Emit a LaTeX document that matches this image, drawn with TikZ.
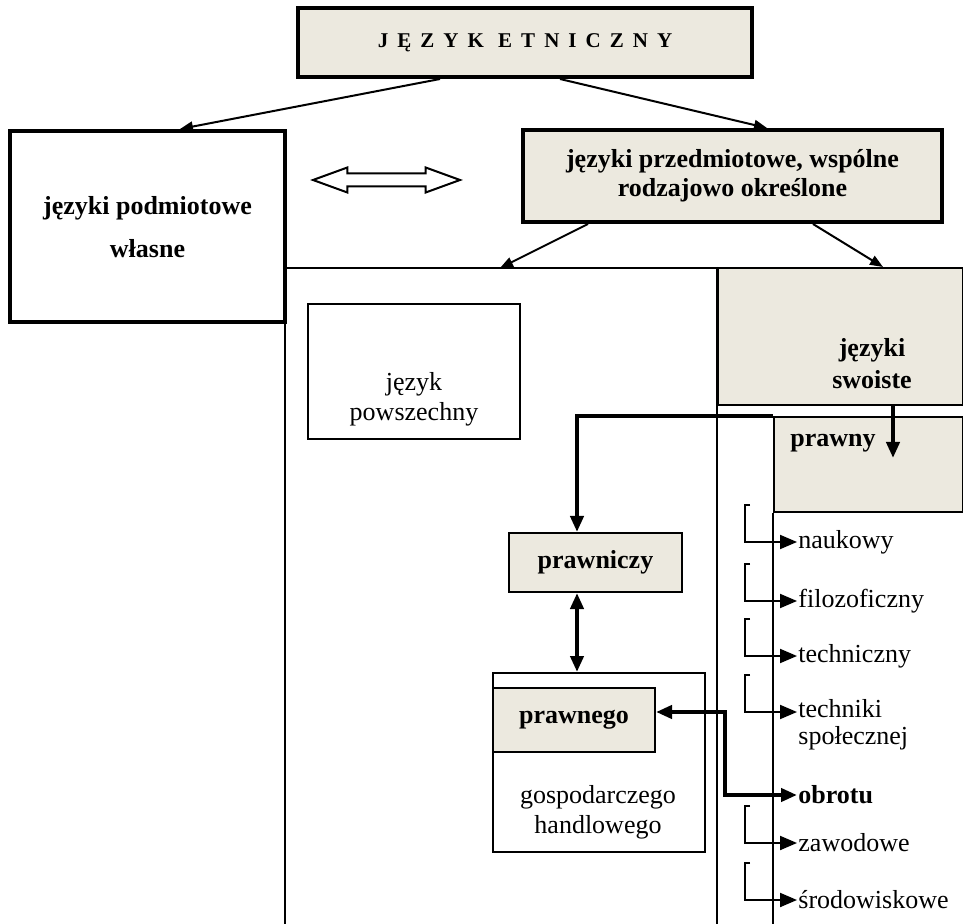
\documentclass[tikz,border=0pt]{standalone}
\usepackage{fontspec}
\setmainfont{Liberation Serif}
\usetikzlibrary{arrows.meta,shapes.arrows}
\definecolor{paper}{HTML}{ECE9DF}

\begin{document}
\begin{tikzpicture}[x=0.5pt,y=-0.5pt,
    every node/.style={font=\fontsize{13}{15}\selectfont},
    boldbox/.style={draw,line width=2pt,inner sep=0pt},
    thinbox/.style={draw,line width=1pt,inner sep=0pt},
    slimtip/.style={line width=1pt,-{Triangle[length=6.5pt,width=5pt]}},
    fattip/.style={line width=2pt,-{Triangle[length=8pt,width=6.5pt]}},
    listtip/.style={line width=1pt,-{Triangle[length=8.5pt,width=7pt]}},
    listitem/.style={anchor=west,inner sep=0.5pt,align=left}]
  \useasboundingbox (0,0) rectangle (963,924);
  % top level
  \node [boldbox,fill=paper,minimum width=227pt,minimum height=34.5pt] (etn) at (525,42.5)
    {\fontsize{10.5}{12}\selectfont\bfseries\addfontfeatures{LetterSpace=43}JĘZYK ETNICZNY};
  \node [boldbox,minimum width=137.5pt,minimum height=95.5pt,align=center,text depth=-3pt,
    font=\fontsize{13}{21.5}\selectfont\bfseries] (podm) at (147.5,226.5) {języki podmiotowe\\własne};
  \node [boldbox,fill=paper,minimum width=209.5pt,minimum height=46pt,align=center,
    font=\fontsize{13}{14.5}\selectfont\bfseries] (przedm) at (732.5,176)
    {języki przedmiotowe, wspólne\\rodzajowo określone};
  \node [draw,line width=1pt,double arrow,double arrow tip angle=40,double arrow head extend=3pt,
    inner sep=2.75pt,minimum height=73.5pt] (rownow) at (386.5,180) {};
  % frame of the common languages
  \draw [line width=1pt] (285,924) -- (285,268) -- (963,268);
  \coordinate (lewy) at (500,268);
  % specific languages
  \node [thinbox,fill=paper,minimum width=122.5pt,minimum height=68.5pt] (swoiste) at (840.5,336.5) {};
  \node [align=center,font=\fontsize{13}{16}\selectfont\bfseries] (swoisteTxt) at (872,364) {języki\\swoiste};
  \draw [line width=1pt] (swoiste.north west) -- (swoiste.north west |- 0,924);
  \node [thinbox,fill=paper,minimum width=94.5pt,minimum height=47.5pt] (prawny) at (868.5,464.5) {};
  \node [font=\fontsize{13}{15}\selectfont\bfseries] (prawnyTxt) at (833,443) {prawny};
  \draw [line width=1pt] (prawny.south west) -- (prawny.south west |- 0,924);
  % general language
  \node [thinbox,minimum width=106pt,minimum height=67.5pt] (powsz) at (414,371.5) {};
  \node [align=center] (powszTxt) at (414,399) {język\\powszechny};
  \node [thinbox,fill=paper,minimum width=86.5pt,minimum height=29.5pt,
    font=\fontsize{13}{15}\selectfont\bfseries] (prawniczy) at (595.5,562.5) {prawniczy};
  \node [thinbox,minimum width=106pt,minimum height=89.5pt] (gosp) at (599,762.5) {};
  \node [thinbox,fill=paper,minimum width=81pt,minimum height=32pt,
    font=\fontsize{13}{15}\selectfont\bfseries] (prawnego) at (574,720) {prawnego};
  \node [align=center] (gospTxt) at (598,812) {gospodarczego\\handlowego};
  % list of specific languages
  \node [listitem] (naukowy) at (797,542) {naukowy};
  \node [listitem] (filozof) at (797,601) {filozoficzny};
  \node [listitem] (technicz) at (797,656) {techniczny};
  \node [listitem,font=\fontsize{13}{13.5}\selectfont] (techspol) at (797,725) {techniki\\społecznej};
  \node [listitem,font=\fontsize{13}{15}\selectfont\bfseries] (obrotu) at (797,795) {obrotu};
  \node [listitem] (zawod) at (797,843) {zawodowe};
  \node [listitem] (srodow) at (797,900) {środowiskowe};
  % arrows
  \draw [slimtip] ([xshift=-42.5pt]etn.south) -- ([xshift=16.25pt]podm.north);
  \draw [slimtip] ([xshift=17.5pt]etn.south) -- ([xshift=17.25pt]przedm.north);
  \draw [slimtip] ([xshift=-72.25pt]przedm.south) -- (lewy);
  \draw [slimtip] ([xshift=40.25pt]przedm.south) -- ([xshift=21.25pt]swoiste.north);
  \draw [fattip] ([xshift=26.25pt]swoiste.south) -- ++(0,52);
  \draw [fattip] (prawny.north west) -| ([xshift=-9.25pt]prawniczy.north);
  \draw [fattip,{Triangle[length=8pt,width=6.5pt]}-{Triangle[length=8pt,width=6.5pt]}]
    ([xshift=-9.25pt]prawniczy.south) -- ([xshift=-11pt]gosp.north);
  \draw [fattip,{Triangle[length=8pt,width=6.5pt]}-{Triangle[length=8pt,width=6.5pt]}]
    ([yshift=4pt]prawnego.east) -- ++(69,0) |- (obrotu.west);
  % brackets of the list
  \draw [listtip] ([shift={(-47,-37)}]naukowy.west) -- ++(-5,0) |- (naukowy.west);
  \draw [listtip] ([shift={(-47,-37)}]filozof.west) -- ++(-5,0) |- (filozof.west);
  \draw [listtip] ([shift={(-47,-37)}]technicz.west) -- ++(-5,0) |- (technicz.west);
  \draw [listtip] ([shift={(-47,-50)}]techspol.west) -- ++(-5,0) |- ([yshift=6.5pt]techspol.west);
  \draw [listtip] ([shift={(-47,-37)}]zawod.west) -- ++(-5,0) |- (zawod.west);
  \draw [listtip] ([shift={(-47,-37)}]srodow.west) -- ++(-5,0) |- (srodow.west);
\end{tikzpicture}
\end{document}
